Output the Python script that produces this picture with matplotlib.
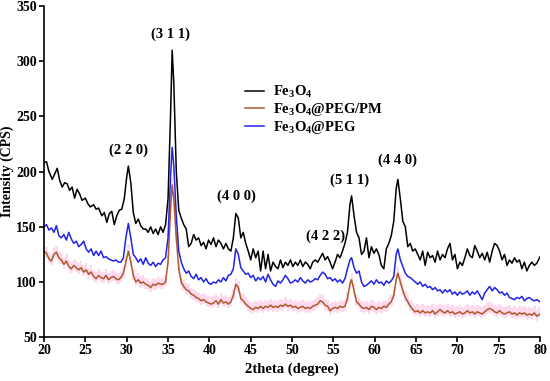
import matplotlib
matplotlib.use("Agg")
import matplotlib.pyplot as plt

plt.rcParams["font.family"] = "Liberation Serif"
plt.rcParams["font.weight"] = "bold"
plt.rcParams["mathtext.fontset"] = "custom"
plt.rcParams["mathtext.rm"] = "Liberation Serif:bold"
plt.rcParams["mathtext.it"] = "Liberation Serif:bold"
plt.rcParams["mathtext.bf"] = "Liberation Serif:bold"

# XRD patterns, (2theta, intensity)
fe3o4 = [
    (20.0, 208), (20.3, 209), (20.6, 200), (21.0, 193), (21.3, 198), (21.6, 203), (21.9, 192), (22.2, 186),
    (22.5, 190), (22.8, 189), (23.1, 183), (23.4, 186), (23.7, 176), (24.0, 184), (24.3, 180), (24.6, 174),
    (25.0, 176), (25.3, 171), (25.6, 168), (26.0, 170), (26.3, 166), (26.6, 167), (27.0, 160), (27.3, 163),
    (27.6, 154), (27.9, 162), (28.2, 164), (28.5, 152), (28.8, 160), (29.1, 165), (29.4, 166), (29.7, 175),
    (30.0, 195), (30.2, 205), (30.5, 190), (30.8, 163), (31.1, 153), (31.4, 157), (31.7, 151), (32.0, 148),
    (32.3, 148), (32.6, 145), (32.9, 150), (33.2, 144), (33.5, 148), (33.8, 143), (34.1, 150), (34.4, 145),
    (34.7, 152), (35.0, 175), (35.3, 250), (35.5, 310), (35.7, 280), (36.0, 200), (36.3, 165), (36.6, 158),
    (36.9, 152), (37.2, 148), (37.5, 132), (37.8, 135), (38.1, 143), (38.4, 138), (38.7, 140), (39.0, 133),
    (39.3, 136), (39.6, 130), (39.9, 138), (40.2, 134), (40.5, 140), (40.8, 132), (41.1, 138), (41.4, 135),
    (41.7, 130), (42.0, 135), (42.3, 130), (42.6, 128), (42.9, 140), (43.2, 162), (43.5, 158), (43.8, 140),
    (44.1, 145), (44.4, 135), (44.7, 128), (45.0, 120), (45.3, 130), (45.6, 122), (45.9, 128), (46.2, 110),
    (46.5, 128), (46.8, 112), (47.1, 125), (47.4, 110), (47.7, 118), (48.0, 114), (48.3, 112), (48.6, 120),
    (48.9, 113), (49.2, 118), (49.5, 115), (49.8, 120), (50.1, 114), (50.4, 118), (50.7, 115), (51.0, 120),
    (51.3, 114), (51.6, 118), (51.9, 116), (52.2, 112), (52.5, 118), (52.8, 120), (53.1, 118), (53.4, 122),
    (53.7, 126), (54.0, 120), (54.3, 123), (54.6, 118), (54.9, 112), (55.2, 118), (55.5, 125), (55.8, 122),
    (56.1, 128), (56.4, 135), (56.7, 145), (57.0, 170), (57.2, 178), (57.5, 160), (57.8, 145), (58.1, 140),
    (58.4, 125), (58.7, 128), (59.0, 140), (59.3, 122), (59.6, 132), (59.9, 126), (60.2, 130), (60.5, 125),
    (60.8, 115), (61.1, 112), (61.4, 130), (61.7, 135), (62.0, 142), (62.3, 155), (62.6, 185), (62.8, 193),
    (63.1, 175), (63.4, 155), (63.7, 150), (64.0, 132), (64.3, 135), (64.6, 128), (64.9, 130), (65.2, 125),
    (65.5, 120), (65.8, 128), (66.1, 115), (66.4, 127), (66.7, 122), (67.0, 124), (67.3, 118), (67.6, 128),
    (67.9, 120), (68.2, 125), (68.5, 122), (68.8, 130), (69.1, 135), (69.4, 120), (69.7, 125), (70.0, 112),
    (70.3, 118), (70.6, 115), (70.9, 122), (71.2, 130), (71.5, 124), (71.8, 122), (72.1, 133), (72.4, 128),
    (72.7, 122), (73.0, 126), (73.3, 120), (73.6, 127), (73.9, 118), (74.2, 128), (74.5, 135), (74.8, 133),
    (75.1, 128), (75.4, 120), (75.7, 125), (76.0, 115), (76.3, 120), (76.6, 117), (76.9, 122), (77.2, 118),
    (77.5, 120), (77.8, 112), (78.1, 118), (78.4, 110), (78.7, 115), (79.0, 118), (79.3, 115), (79.6, 117),
    (80.0, 123),
]

fe3o4_peg = [
    (20.0, 150), (20.3, 152), (20.6, 147), (20.9, 149), (21.2, 145), (21.5, 151), (21.8, 142), (22.1, 140),
    (22.4, 143), (22.7, 138), (23.0, 145), (23.3, 139), (23.6, 135), (23.9, 137), (24.2, 132), (24.5, 134),
    (24.8, 137), (25.1, 130), (25.4, 127), (25.7, 130), (26.0, 124), (26.3, 128), (26.6, 124), (26.9, 128),
    (27.2, 122), (27.5, 123), (27.8, 121), (28.1, 120), (28.4, 119), (28.7, 120), (29.0, 118), (29.3, 118),
    (29.6, 122), (29.9, 140), (30.2, 153), (30.5, 140), (30.8, 125), (31.1, 122), (31.4, 118), (31.7, 121),
    (32.0, 116), (32.3, 122), (32.6, 117), (32.9, 115), (33.2, 118), (33.5, 114), (33.8, 117), (34.1, 116),
    (34.4, 120), (34.7, 122), (35.0, 140), (35.3, 195), (35.5, 222), (35.7, 205), (36.0, 160), (36.3, 128),
    (36.6, 118), (36.9, 112), (37.2, 108), (37.5, 110), (37.8, 105), (38.1, 103), (38.4, 107), (38.7, 102),
    (39.0, 104), (39.3, 100), (39.6, 103), (39.9, 99), (40.2, 98), (40.5, 100), (40.8, 99), (41.1, 102),
    (41.4, 100), (41.7, 104), (42.0, 101), (42.3, 106), (42.6, 107), (42.9, 112), (43.2, 130), (43.5, 125),
    (43.8, 113), (44.1, 110), (44.4, 107), (44.7, 108), (45.0, 104), (45.3, 106), (45.6, 101), (45.9, 104),
    (46.2, 102), (46.5, 105), (46.8, 100), (47.1, 107), (47.4, 102), (47.7, 98), (48.0, 96), (48.3, 101),
    (48.6, 99), (48.9, 102), (49.2, 106), (49.5, 103), (49.8, 99), (50.1, 100), (50.4, 102), (50.7, 100),
    (51.0, 104), (51.3, 101), (51.6, 99), (51.9, 102), (52.2, 100), (52.5, 101), (52.8, 103), (53.1, 102),
    (53.4, 106), (53.7, 109), (54.0, 107), (54.3, 103), (54.6, 104), (54.9, 101), (55.2, 103), (55.5, 100),
    (55.8, 102), (56.1, 99), (56.4, 103), (56.7, 112), (57.0, 120), (57.2, 122), (57.5, 113), (57.8, 108),
    (58.1, 110), (58.4, 100), (58.7, 96), (59.0, 97), (59.3, 99), (59.6, 101), (59.9, 98), (60.2, 102),
    (60.5, 99), (60.8, 100), (61.1, 97), (61.4, 101), (61.7, 99), (62.0, 101), (62.3, 105), (62.6, 125),
    (62.8, 130), (63.1, 120), (63.4, 114), (63.7, 108), (64.0, 105), (64.3, 104), (64.6, 102), (64.9, 100),
    (65.2, 98), (65.5, 100), (65.8, 96), (66.1, 98), (66.4, 95), (66.7, 96), (67.0, 93), (67.3, 95),
    (67.6, 92), (67.9, 93), (68.2, 90), (68.5, 93), (68.8, 91), (69.1, 93), (69.4, 89), (69.7, 91),
    (70.0, 88), (70.3, 91), (70.6, 89), (70.9, 90), (71.2, 92), (71.5, 88), (71.8, 91), (72.1, 89),
    (72.4, 92), (72.7, 88), (73.0, 84), (73.3, 90), (73.6, 93), (73.9, 96), (74.2, 92), (74.5, 95),
    (74.8, 93), (75.1, 90), (75.4, 91), (75.7, 88), (76.0, 90), (76.3, 86), (76.6, 85), (76.9, 84),
    (77.2, 86), (77.5, 85), (77.8, 87), (78.1, 83), (78.4, 85), (78.7, 86), (79.0, 84), (79.3, 83),
    (79.6, 84), (80.0, 82),
]

fe3o4_peg_pm = [
    (20.0, 128), (20.3, 126), (20.6, 121), (20.9, 119), (21.2, 125), (21.5, 127), (21.8, 122), (22.1, 120),
    (22.4, 116), (22.7, 119), (23.0, 114), (23.3, 112), (23.6, 115), (23.9, 113), (24.2, 111), (24.5, 113),
    (24.8, 109), (25.1, 111), (25.4, 107), (25.7, 109), (26.0, 105), (26.3, 103), (26.6, 106), (26.9, 104),
    (27.2, 103), (27.5, 106), (27.8, 102), (28.1, 104), (28.4, 105), (28.7, 103), (29.0, 102), (29.3, 104),
    (29.6, 108), (29.9, 118), (30.2, 128), (30.5, 118), (30.8, 106), (31.1, 100), (31.4, 102), (31.7, 99),
    (32.0, 100), (32.3, 98), (32.6, 97), (32.9, 95), (33.2, 98), (33.5, 97), (33.8, 99), (34.1, 98),
    (34.4, 98), (34.7, 100), (35.0, 118), (35.3, 165), (35.5, 188), (35.7, 175), (36.0, 140), (36.3, 112),
    (36.6, 100), (36.9, 96), (37.2, 93), (37.5, 92), (37.8, 89), (38.1, 88), (38.4, 86), (38.7, 85),
    (39.0, 83), (39.3, 84), (39.6, 82), (39.9, 81), (40.2, 80), (40.5, 81), (40.8, 83), (41.1, 80),
    (41.4, 84), (41.7, 81), (42.0, 82), (42.3, 80), (42.6, 82), (42.9, 88), (43.2, 98), (43.5, 95),
    (43.8, 85), (44.1, 83), (44.4, 80), (44.7, 78), (45.0, 76), (45.3, 75), (45.6, 77), (45.9, 76),
    (46.2, 78), (46.5, 76), (46.8, 78), (47.1, 77), (47.4, 79), (47.7, 77), (48.0, 78), (48.3, 77),
    (48.6, 79), (48.9, 78), (49.2, 80), (49.5, 78), (49.8, 79), (50.1, 77), (50.4, 78), (50.7, 76),
    (51.0, 77), (51.3, 78), (51.6, 76), (51.9, 77), (52.2, 76), (52.5, 78), (52.8, 79), (53.1, 80),
    (53.4, 83), (53.7, 82), (54.0, 79), (54.3, 78), (54.6, 74), (54.9, 76), (55.2, 77), (55.5, 76),
    (55.8, 78), (56.1, 77), (56.4, 78), (56.7, 85), (57.0, 98), (57.2, 102), (57.5, 92), (57.8, 82),
    (58.1, 80), (58.4, 77), (58.7, 76), (59.0, 77), (59.3, 75), (59.6, 78), (59.9, 77), (60.2, 75),
    (60.5, 77), (60.8, 76), (61.1, 78), (61.4, 77), (61.7, 80), (62.0, 82), (62.3, 88), (62.6, 102),
    (62.8, 108), (63.1, 100), (63.4, 92), (63.7, 86), (64.0, 82), (64.3, 78), (64.6, 75), (64.9, 73),
    (65.2, 74), (65.5, 72), (65.8, 74), (66.1, 72), (66.4, 73), (66.7, 72), (67.0, 74), (67.3, 71),
    (67.6, 73), (67.9, 75), (68.2, 73), (68.5, 72), (68.8, 74), (69.1, 72), (69.4, 73), (69.7, 71),
    (70.0, 72), (70.3, 73), (70.6, 71), (70.9, 72), (71.2, 74), (71.5, 72), (71.8, 73), (72.1, 71),
    (72.4, 73), (72.7, 72), (73.0, 71), (73.3, 73), (73.6, 75), (73.9, 76), (74.2, 75), (74.5, 73),
    (74.8, 72), (75.1, 74), (75.4, 72), (75.7, 71), (76.0, 72), (76.3, 73), (76.6, 71), (76.9, 72),
    (77.2, 70), (77.5, 72), (77.8, 71), (78.1, 72), (78.4, 70), (78.7, 71), (79.0, 70), (79.3, 72),
    (79.6, 69), (80.0, 71),
]

peak_labels = ["(2 2 0)", "(3 1 1)", "(4 0 0)", "(4 2 2)", "(5 1 1)", "(4 4 0)"]
peak_pos = [(30.2, 213), (35.3, 318), (43.3, 172), (54.0, 135), (56.9, 186), (62.7, 204)]

x1, y1 = zip(*fe3o4)
x2, y2 = zip(*fe3o4_peg_pm)
x3, y3 = zip(*fe3o4_peg)

fig, ax = plt.subplots(figsize = (5.5, 3.81), dpi = 100)
fig.subplots_adjust(left = 0.08, right = 0.982, bottom = 0.115, top = 0.984)

ax.fill_between(x2, [v - 4 for v in y2], [v + 6 for v in y2], step = "mid", color = "#ffc0e4", alpha = 0.6, lw = 0)
ax.plot(x1, y1, color = "black", lw = 1.1, label = r"Fe$_3$O$_4$")
ax.plot(x2, y2, color = "#b0582a", lw = 1.1, label = r"Fe$_3$O$_4$@PEG/PM")
ax.plot(x3, y3, color = "#2222e8", lw = 1.1, label = r"Fe$_3$O$_4$@PEG")

for lab, (px, py) in zip(peak_labels, peak_pos):
    ax.text(px, py, lab, ha = "center", va = "bottom", fontsize = 10.5, fontweight = "bold")

ax.set_xlim(20, 80)
ax.set_ylim(50, 350)
ax.set_xticks(range(20, 81, 5))
ax.set_yticks(range(50, 351, 50))
ax.spines["top"].set_visible(False)
ax.spines["right"].set_visible(False)
ax.spines["left"].set_linewidth(1.2)
ax.spines["bottom"].set_linewidth(1.2)
ax.tick_params(direction = "out", length = 3.5, width = 1.2, labelsize = 10, pad = 1.5)
ax.set_xlabel("2theta (degree)", fontsize = 10.5, fontweight = "bold", labelpad = 4)
ax.set_ylabel("Intensity (CPS)", fontsize = 10, fontweight = "bold")
ax.yaxis.set_label_coords(-0.061, 0.5)

ax.legend(loc = "upper left", bbox_to_anchor = (0.385, 0.795), frameon = False, fontsize = 10.5,
          handlelength = 1.3, handletextpad = 0.6, labelspacing = 0.05, borderpad = 0.2)

fig.savefig("out.png", dpi = 100)
